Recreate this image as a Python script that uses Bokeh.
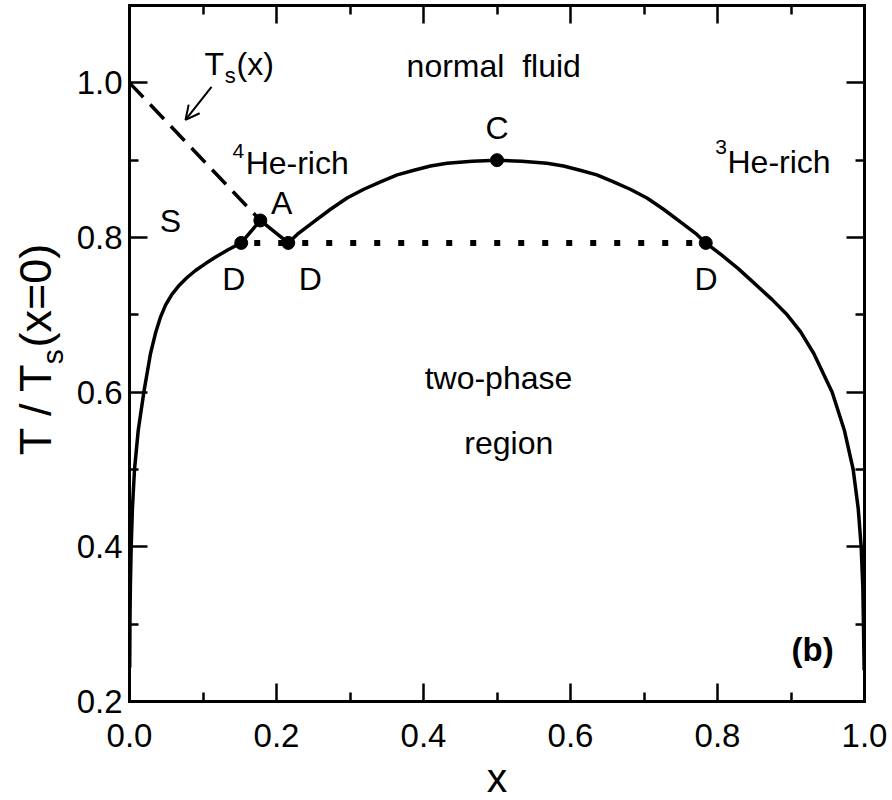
from bokeh.plotting import figure
from bokeh.layouts import row
from bokeh.models import (Range1d, LinearAxis, FixedTicker, Label, Arrow, OpenHead,
                          PrintfTickFormatter, CustomJSTickFormatter)
from bokeh.core.properties import value
from bokeh.embed import file_html
from bokeh.resources import INLINE
import math

# ---------------- data ----------------
lambda_x = [0.0003, 0.0006, 0.0012, 0.0023, 0.0040, 0.0068, 0.0118, 0.0195, 0.0286, 0.0354,
            0.0422, 0.0490, 0.0571, 0.0667, 0.0776, 0.0898, 0.1034, 0.1184, 0.1347, 0.1520]
lambda_y = [0.244, 0.300, 0.350, 0.400, 0.450, 0.500, 0.550, 0.600, 0.650, 0.6764,
            0.6971, 0.7126, 0.7256, 0.7372, 0.7476, 0.7573, 0.7663, 0.7754, 0.7845, 0.793]
kink_x = [0.152, 0.178, 0.216]
kink_y = [0.793, 0.822, 0.793]
dome_x = [0.216, 0.2281, 0.251, 0.2735, 0.296, 0.3188, 0.3415, 0.3642, 0.387, 0.4095, 0.432,
          0.4662, 0.500, 0.5338, 0.568, 0.5905, 0.613, 0.6358, 0.6585, 0.6812, 0.704, 0.7265,
          0.749, 0.7719, 0.784]
dome_y = [0.793, 0.804, 0.8205, 0.8365, 0.851, 0.8624, 0.872, 0.8809, 0.887, 0.8925, 0.896,
          0.8985, 0.900, 0.8985, 0.896, 0.8925, 0.887, 0.8809, 0.872, 0.8624, 0.851, 0.8365,
          0.8205, 0.804, 0.793]
right_x = [0.784, 0.8054, 0.8286, 0.8740, 0.8948, 0.9129, 0.931, 0.956, 0.9728, 0.9846, 0.9914,
           0.9955, 0.9977, 0.9986, 0.9995]
right_y = [0.793, 0.7775, 0.7594, 0.720, 0.700, 0.6784, 0.650, 0.600, 0.550, 0.500, 0.450,
           0.400, 0.348, 0.300, 0.2405]
ts_x = [0.0, 0.178]
ts_y = [1.0, 0.822]
tie_x = [0.152, 0.784]
tie_y = [0.793, 0.793]
pts_x = [0.152, 0.178, 0.216, 0.500, 0.784]
pts_y = [0.793, 0.822, 0.793, 0.900, 0.793]

x_major = [0.0, 0.2, 0.4, 0.6, 0.8, 1.0]
x_minor = [0.1, 0.3, 0.5, 0.7, 0.9]
y_major = [0.2, 0.4, 0.6, 0.8, 1.0]
y_minor = [0.3, 0.5, 0.7, 0.9]

FONT = "Liberation Sans"
PX_PER_Y = 696 / 0.9          # frame pixels per y unit
BASE_FIX = 0.28               # Bokeh alphabetic-baseline offset (fraction of font size)
STRIP_W = 72                  # width of the left strip carrying the y title

yr_shared = Range1d(0.2, 1.1)

p = figure(frame_width=735, frame_height=696,
           x_range=Range1d(0.0, 1.0), y_range=yr_shared,
           output_backend="svg", toolbar_location=None,
           min_border_left=129 - STRIP_W, min_border_right=28, min_border_top=5,
           min_border_bottom=99, x_axis_location=None, y_axis_location=None)
p.xgrid.visible = False
p.ygrid.visible = False
p.outline_line_color = None
p.background_fill_color = "white"
p.border_fill_color = "white"


def style_axis(ax, ticks, minor, show_labels):
    ax.ticker = FixedTicker(ticks=ticks, minor_ticks=minor)
    ax.axis_line_width = 3
    ax.axis_line_color = "black"
    ax.axis_line_cap = "square"
    ax.major_tick_in = 18
    ax.major_tick_out = 0
    ax.minor_tick_in = 9
    ax.minor_tick_out = 0
    ax.major_tick_line_width = 2.5
    ax.minor_tick_line_width = 2.5
    ax.major_tick_line_color = "black"
    ax.minor_tick_line_color = "black"
    ax.major_label_text_font = FONT
    ax.major_label_text_color = "black"
    if show_labels:
        ax.formatter = PrintfTickFormatter(format="%.1f")
        ax.major_label_text_font_size = "33px"
    else:
        ax.formatter = CustomJSTickFormatter(code="return '';")
        ax.major_label_standoff = 0


xb = LinearAxis()
style_axis(xb, x_major, x_minor, True)
xb.major_label_standoff = 22
xb.axis_label = "x"
xb.axis_label_text_font = FONT
xb.axis_label_text_font_size = "41px"
xb.axis_label_text_font_style = "normal"
xb.axis_label_text_color = "black"
xb.axis_label_standoff = 5
p.add_layout(xb, "below")

xt = LinearAxis()
style_axis(xt, x_major, x_minor, False)
p.add_layout(xt, "above")

yl = LinearAxis()
style_axis(yl, y_major, y_minor, True)
yl.major_label_standoff = 7
p.add_layout(yl, "left")

yr = LinearAxis()
style_axis(yr, y_major, y_minor, False)
p.add_layout(yr, "right")

# curves
p.line(ts_x, ts_y, line_color="black", line_width=3.5, line_dash="20 10")
p.line(tie_x, tie_y, line_color="black", line_width=6, line_dash="6 18",
       line_dash_offset=11, line_cap="butt")
curve_x = lambda_x + kink_x[1:] + dome_x[1:] + right_x[1:]
curve_y = lambda_y + kink_y[1:] + dome_y[1:] + right_y[1:]
p.line(curve_x, curve_y, line_color="black", line_width=3.5, line_join="round")
p.scatter(pts_x, pts_y, size=13, marker="circle", fill_color="black", line_color="black")


def lab(x, y, text, size=32, align="left", style="normal"):
    p.add_layout(Label(x=x, y=y + BASE_FIX * size / PX_PER_Y, text=text, text_font=FONT,
                       text_font_size=f"{size}px", text_align=align, text_baseline="alphabetic",
                       text_font_style=style, text_color="black"))


lab(0.377, 1.0104, "normal\u00a0 fluid")
lab(0.500, 0.930, "C", align="center")
lab(0.140, 0.9042, "4", size=21)
lab(0.158, 0.8848, "He-rich")
lab(0.797, 0.909, "3", size=21)
lab(0.8136, 0.886, "He-rich")
lab(0.0558, 0.810, "S", align="center")
lab(0.207, 0.8334, "A", align="center")
lab(0.142, 0.7346, "D", align="center")
lab(0.246, 0.7346, "D", align="center")
lab(0.7844, 0.7346, "D", align="center")
lab(0.502, 0.607, "two-phase", align="center")
lab(0.516, 0.5227, "region", align="center")
lab(0.958, 0.2557, "(b)", size=33, align="right", style="bold")

# T_s(x) label with arrow
lab(0.102, 1.013, "T")
lab(0.1295, 1.002, "s", size=22)
lab(0.1456, 1.013, "(x)")
p.add_layout(Arrow(end=OpenHead(size=14, line_width=2, line_color="black"),
                   x_start=0.1116, y_start=0.9948, x_end=0.0762, y_end=0.952,
                   line_width=2, line_color="black"))

# ---------- strip on the left holding the rotated y-axis title ----------
q = figure(frame_width=STRIP_W, frame_height=696,
           x_range=Range1d(0, STRIP_W), y_range=yr_shared,
           output_backend="svg", toolbar_location=None,
           min_border_left=0, min_border_right=0, min_border_top=5, min_border_bottom=99,
           x_axis_location=None, y_axis_location=None)
q.xgrid.visible = False
q.ygrid.visible = False
q.outline_line_color = None
q.background_fill_color = "white"
q.border_fill_color = "white"
rot = math.pi / 2


def vlab(xpx, y, text, size):
    q.text(x=[xpx - BASE_FIX * size], y=[y], text=[text], angle=rot, text_font=value(FONT),
           text_font_size=f"{size}px", text_align="left", text_baseline="alphabetic",
           text_color="black")


vlab(48, 0.5184, "T / T", 45)
vlab(60, 0.636, "s", 30)
vlab(48, 0.6578, "(x=0)", 45)

layout = row(q, p, spacing=0)
open("out.html", "w").write(file_html(layout, INLINE))
